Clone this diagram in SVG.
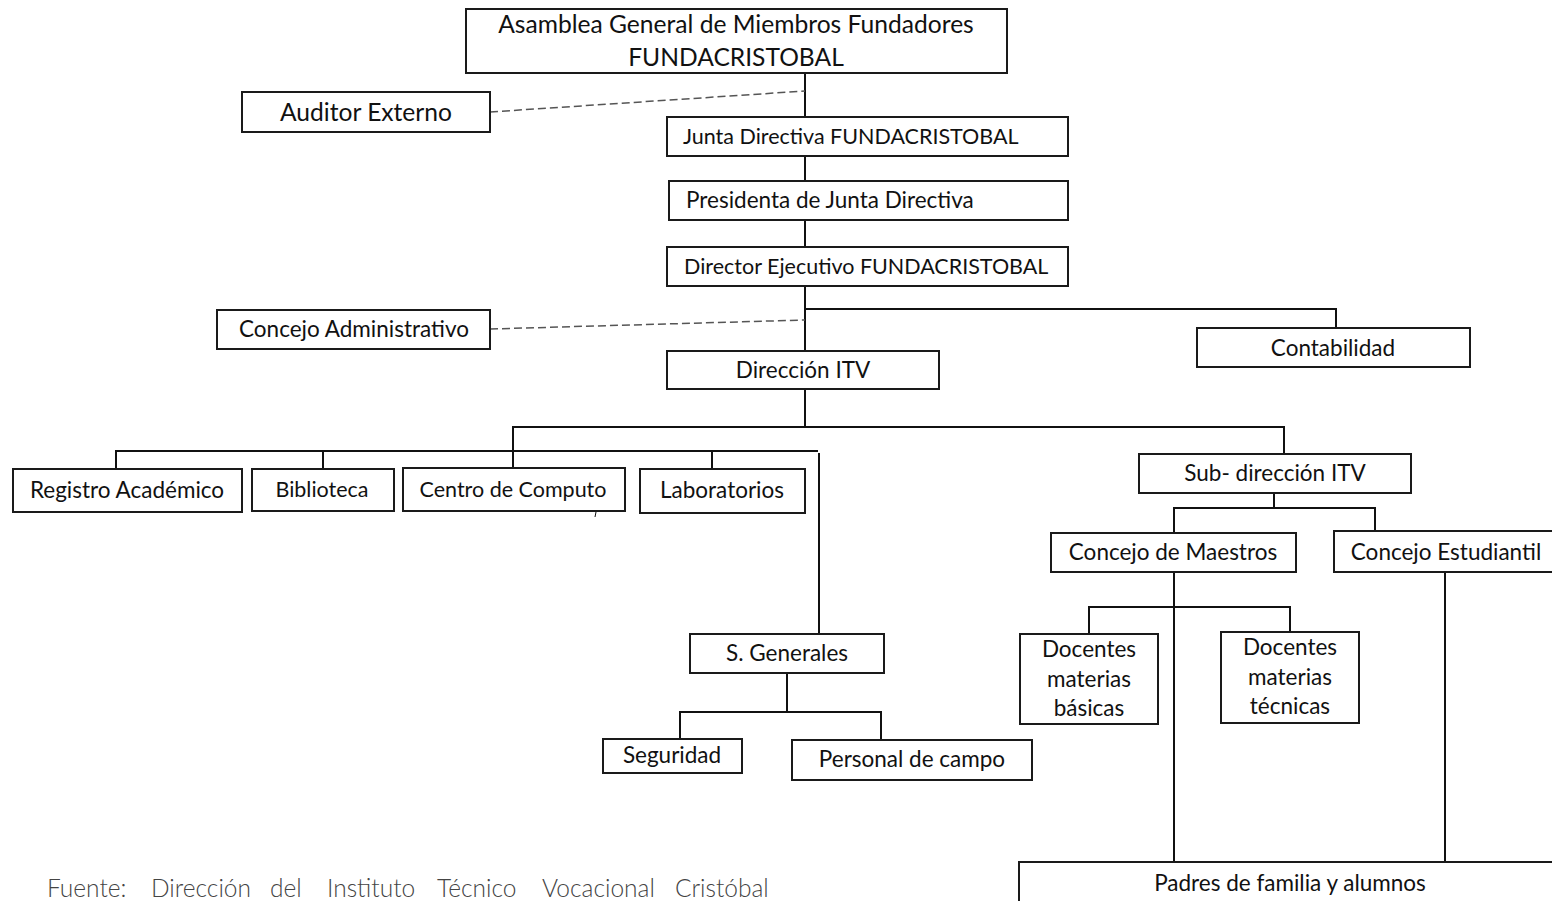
<svg xmlns="http://www.w3.org/2000/svg" width="1552" height="901" viewBox="0 0 1552 901">
<style>
rect{fill:#fff;stroke:#1a1a1a;stroke-width:2}
text{font-family:Lato,"Open Sans","Liberation Sans",sans-serif;font-size:22.5px;fill:#111;text-anchor:middle}
.l{text-anchor:start}
.big{font-size:24.6px}
.s{font-size:21.5px}
.c line,.c polyline{stroke:#111;stroke-width:2;fill:none}
.c .d{stroke:#555;stroke-dasharray:8 4;stroke-width:1.5}
.f{font-size:24.5px;fill:#444;text-anchor:start;font-weight:300}
</style>
<rect x="0" y="0" width="1552" height="901" style="stroke:none"/>
<g class="c" id="connectors">
<line x1="805" y1="73" x2="805" y2="117"/>
<line class="d" x1="490" y1="112" x2="805" y2="91"/>
<line x1="805" y1="156" x2="805" y2="181"/>
<line x1="805" y1="220" x2="805" y2="247"/>
<line x1="805" y1="286" x2="805" y2="351"/>
<polyline points="805,309 1336,309 1336,328"/>
<line class="d" x1="490" y1="329" x2="805" y2="320"/>
<line x1="805" y1="389" x2="805" y2="427"/>
<polyline points="513,468 513,427 1284,427 1284,454"/>
<polyline points="116,469 116,451 818,451"/>
<line x1="323" y1="451" x2="323" y2="469"/>
<line x1="712" y1="451" x2="712" y2="469"/>
<line x1="819" y1="453" x2="819" y2="634"/>
<line x1="596" y1="512" x2="595" y2="517" style="stroke-width:1"/>
<polyline points="787,673 787,712"/>
<polyline points="680,739 680,712 881,712 881,740"/>
<line x1="1274" y1="493" x2="1274" y2="508"/>
<polyline points="1174,533 1174,508 1375,508 1375,531"/>
<line x1="1174" y1="572" x2="1174" y2="862"/>
<polyline points="1089,634 1089,607 1290,607 1290,632"/>
<line x1="1445" y1="572" x2="1445" y2="862"/>
</g>
<g id="asamblea"><rect x="466" y="9" width="541" height="64"/><text class="big" x="736" y="33">Asamblea General de Miembros Fundadores</text><text class="big" x="736" y="66">FUNDACRISTOBAL</text></g>
<g id="auditor"><rect x="242" y="92" width="248" height="40"/><text class="big" x="366" y="121">Auditor Externo</text></g>
<g id="junta"><rect x="667" y="117" width="401" height="39"/><text class="l s" x="683" y="144">Junta Directiva FUNDACRISTOBAL</text></g>
<g id="presidenta"><rect x="669" y="181" width="399" height="39"/><text class="l" x="686" y="208">Presidenta de Junta Directiva</text></g>
<g id="director"><rect x="667" y="247" width="401" height="39"/><text class="l s" x="684" y="274">Director Ejecutivo FUNDACRISTOBAL</text></g>
<g id="concejo-admin"><rect x="217" y="310" width="273" height="39"/><text x="354" y="337">Concejo Administrativo</text></g>
<g id="contabilidad"><rect x="1197" y="328" width="273" height="39"/><text x="1333" y="356">Contabilidad</text></g>
<g id="direccion"><rect x="667" y="351" width="272" height="38"/><text x="803" y="378">Dirección ITV</text></g>
<g id="registro"><rect x="13" y="469" width="229" height="43"/><text x="127" y="498">Registro Académico</text></g>
<g id="biblioteca"><rect x="252" y="469" width="142" height="42"/><text class="s" x="322" y="497">Biblioteca</text></g>
<g id="centro"><rect x="403" y="468" width="222" height="43"/><text class="s" x="513" y="497">Centro de Computo</text></g>
<g id="laboratorios"><rect x="640" y="469" width="165" height="44"/><text x="722" y="498">Laboratorios</text></g>
<g id="generales"><rect x="690" y="634" width="194" height="39"/><text x="787" y="661">S. Generales</text></g>
<g id="seguridad"><rect x="603" y="739" width="139" height="34"/><text x="672" y="763">Seguridad</text></g>
<g id="personal"><rect x="792" y="740" width="240" height="40"/><text x="912" y="767">Personal de campo</text></g>
<g id="subdireccion"><rect x="1139" y="454" width="272" height="39"/><text x="1275" y="481">Sub- dirección ITV</text></g>
<g id="maestros"><rect x="1051" y="533" width="245" height="39"/><text x="1173" y="560">Concejo de Maestros</text></g>
<g id="estudiantil"><rect x="1334" y="531" width="230" height="41"/><text x="1446" y="560">Concejo Estudiantil</text></g>
<g id="basicas"><rect x="1020" y="634" width="138" height="90"/><text x="1089" y="657">Docentes</text><text x="1089" y="687">materias</text><text x="1089" y="716">básicas</text></g>
<g id="tecnicas"><rect x="1221" y="632" width="138" height="91"/><text x="1290" y="655">Docentes</text><text x="1290" y="685">materias</text><text x="1290" y="714">técnicas</text></g>
<g id="padres"><rect x="1019" y="862" width="545" height="60"/><text x="1290" y="891">Padres de familia y alumnos</text></g>
<text class="f" y="897"><tspan x="47">Fuente:</tspan><tspan x="151">Dirección</tspan><tspan x="270">del</tspan><tspan x="327">Instituto</tspan><tspan x="437">Técnico</tspan><tspan x="542">Vocacional</tspan><tspan x="675">Cristóbal</tspan></text>
</svg>
